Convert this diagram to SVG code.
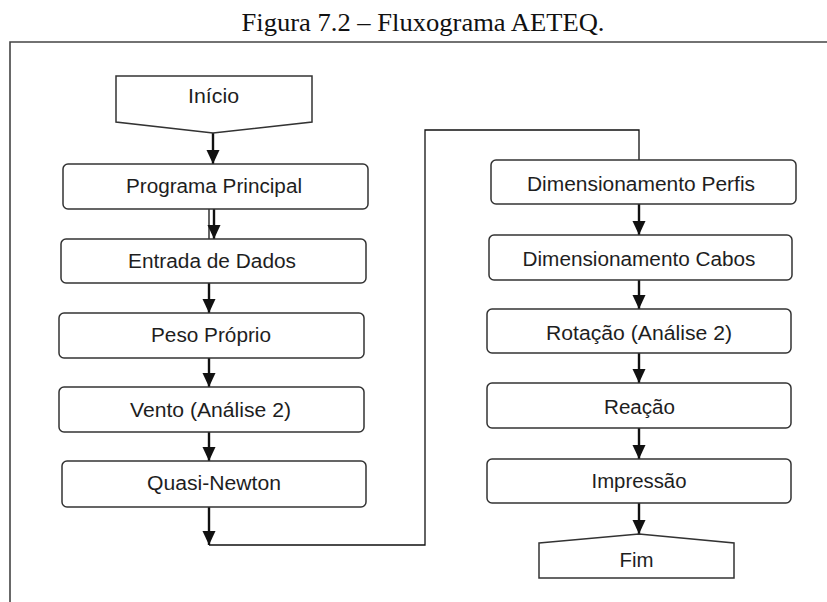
<svg xmlns="http://www.w3.org/2000/svg" width="827" height="602" viewBox="0 0 827 602">
  <style>
    .box { fill: #ffffff; stroke: #333333; stroke-width: 1.5; }
    .lbl { font-family: "Liberation Sans", Arial, sans-serif; font-size: 20px; fill: #1e1e1e; text-anchor: middle; }
    .title { font-family: "Liberation Serif", "Times New Roman", serif; font-size: 25px; fill: #111111; text-anchor: middle; }
    .flow { fill: none; stroke: #111111; stroke-width: 2.4; }
    .thin { fill: none; stroke: #111111; stroke-width: 1.3; }
    .frame { fill: none; stroke: #444444; stroke-width: 1.6; }
  </style>
  <defs>
    <marker id="arrow" markerUnits="userSpaceOnUse" markerWidth="15" markerHeight="14" refX="14" refY="6.5" orient="auto">
      <path d="M0,0 L14,6.5 L0,13 Z" fill="#111111"/>
    </marker>
  </defs>

  <rect width="827" height="602" fill="#ffffff"/>

  <!-- caption and frame -->
  <text class="title" x="423" y="31" textLength="363" lengthAdjust="spacingAndGlyphs">Figura 7.2 – Fluxograma AETEQ.</text>
  <path class="frame" d="M10,602 V42 H827"/>

  <!-- connectors -->
  <g id="connectors">
    <path class="flow" d="M213,133 V164" marker-end="url(#arrow)"/>
    <path class="thin" d="M209,209 V239"/>
    <path class="flow" d="M214,209 V239" marker-end="url(#arrow)"/>
    <path class="flow" d="M209,283 V313" marker-end="url(#arrow)"/>
    <path class="flow" d="M209,358 V387" marker-end="url(#arrow)"/>
    <path class="flow" d="M209,432 V461" marker-end="url(#arrow)"/>
    <path class="flow" d="M209,507 V545" marker-end="url(#arrow)"/>
    <path class="thin" d="M209,545 H425 V130 H639 V160"/>
    <path class="flow" d="M639,204 V235" marker-end="url(#arrow)"/>
    <path class="flow" d="M639,280 V309" marker-end="url(#arrow)"/>
    <path class="flow" d="M639,353 V383" marker-end="url(#arrow)"/>
    <path class="flow" d="M639,428 V459" marker-end="url(#arrow)"/>
    <path class="flow" d="M639,503 V534" marker-end="url(#arrow)"/>
  </g>

  <!-- left column -->
  <g id="inicio">
    <path class="box" d="M116,76 H312 V122 L213,133 L116,122 Z"/>
    <text class="lbl" x="213.5" y="103" textLength="51" lengthAdjust="spacingAndGlyphs">Início</text>
  </g>
  <g id="programa-principal">
    <rect class="box" x="63" y="164" width="305" height="45" rx="5"/>
    <text class="lbl" x="214" y="193" textLength="176" lengthAdjust="spacingAndGlyphs">Programa Principal</text>
  </g>
  <g id="entrada-de-dados">
    <rect class="box" x="61" y="239" width="305" height="44" rx="5"/>
    <text class="lbl" x="212" y="268" textLength="168" lengthAdjust="spacingAndGlyphs">Entrada de Dados</text>
  </g>
  <g id="peso-proprio">
    <rect class="box" x="59" y="313" width="305" height="45" rx="5"/>
    <text class="lbl" x="211" y="342" textLength="120" lengthAdjust="spacingAndGlyphs">Peso Próprio</text>
  </g>
  <g id="vento">
    <rect class="box" x="59" y="387" width="305" height="45" rx="5"/>
    <text class="lbl" x="210.5" y="417" textLength="161" lengthAdjust="spacingAndGlyphs">Vento (Análise 2)</text>
  </g>
  <g id="quasi-newton">
    <rect class="box" x="62" y="461" width="304" height="46" rx="5"/>
    <text class="lbl" x="214" y="490" textLength="134" lengthAdjust="spacingAndGlyphs">Quasi-Newton</text>
  </g>

  <!-- right column -->
  <g id="dimensionamento-perfis">
    <rect class="box" x="491" y="160" width="305" height="44" rx="5"/>
    <text class="lbl" x="641" y="191" textLength="228" lengthAdjust="spacingAndGlyphs">Dimensionamento Perfis</text>
  </g>
  <g id="dimensionamento-cabos">
    <rect class="box" x="489" y="235" width="303" height="45" rx="5"/>
    <text class="lbl" x="639" y="266" textLength="233" lengthAdjust="spacingAndGlyphs">Dimensionamento Cabos</text>
  </g>
  <g id="rotacao">
    <rect class="box" x="487" y="309" width="304" height="44" rx="5"/>
    <text class="lbl" x="639" y="340" textLength="186" lengthAdjust="spacingAndGlyphs">Rotação (Análise 2)</text>
  </g>
  <g id="reacao">
    <rect class="box" x="487" y="383" width="304" height="45" rx="5"/>
    <text class="lbl" x="639.5" y="414" textLength="71" lengthAdjust="spacingAndGlyphs">Reação</text>
  </g>
  <g id="impressao">
    <rect class="box" x="487" y="459" width="304" height="44" rx="5"/>
    <text class="lbl" x="639" y="488" textLength="95" lengthAdjust="spacingAndGlyphs">Impressão</text>
  </g>
  <g id="fim">
    <path class="box" d="M539,543 L639,534 L734,543 V578 H539 Z"/>
    <text class="lbl" x="636.5" y="567" textLength="34" lengthAdjust="spacingAndGlyphs">Fim</text>
  </g>
</svg>
